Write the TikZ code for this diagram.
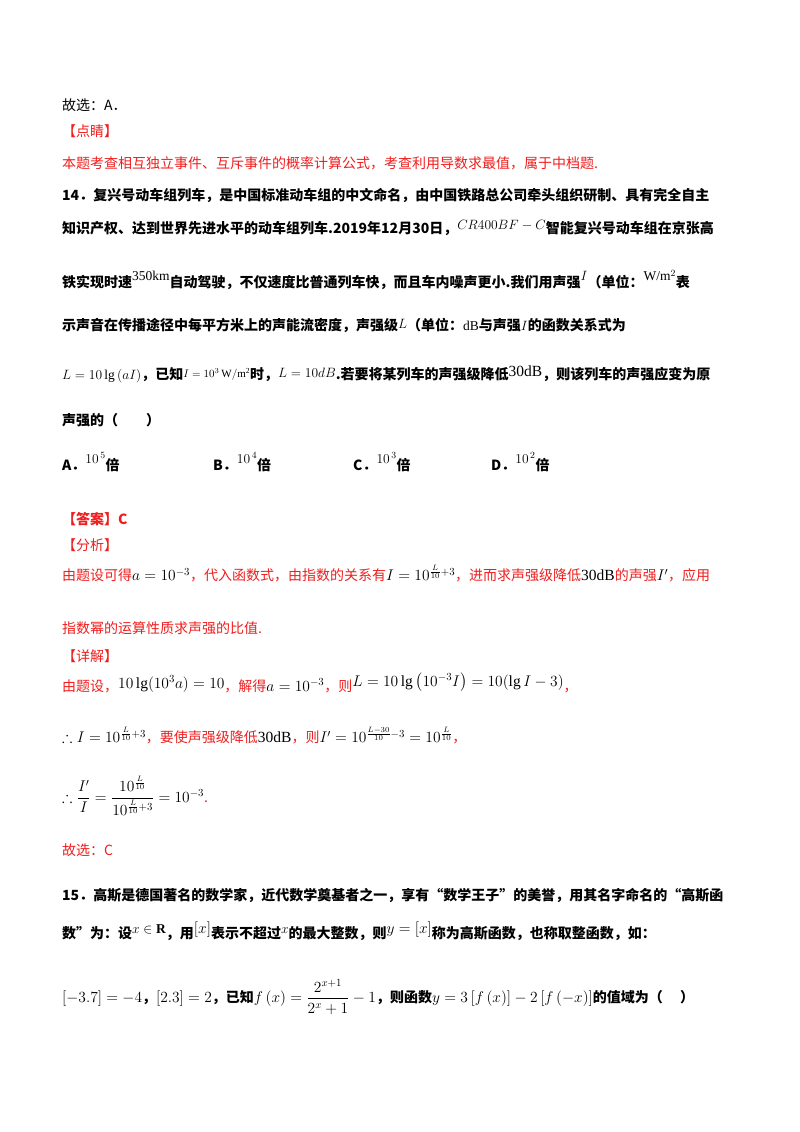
\RequirePackage{fix-cm}
\documentclass[tikz,border=0pt]{standalone}
\usepackage{amsmath,amssymb}
\usepackage{fontspec}
\setmainfont{Liberation Serif}
\newfontfamily\cjk{Noto Sans CJK SC}
\definecolor{rd}{RGB}{240,30,30}
\newcommand{\ms}{\normalfont\fontsize{15.5}{17}\selectfont}
\newcommand{\mt}{\normalfont\fontsize{13.5}{15}\selectfont}
\newcommand{\cb}{\cjk\bfseries\fontsize{14}{16}\selectfont}
\begin{document}
\begin{tikzpicture}[x=1pt,y=-1pt,
  ln/.style={anchor=west,inner sep=0pt,font=\cjk\fontsize{14}{16}\selectfont},
  red/.style={ln,text=rd},
  bl/.style={ln,font=\cb}]
\useasboundingbox (0,0) rectangle (800,1132);
\fill[white] (0,0) rectangle (800,1132);
\node[ln] (l1) at (62,105) {故选：A．};
\node[red] (l2) at (62,131) {【点睛】};
\node[red] (l3) at (62,163) {本题考查相互独立事件、互斥事件的概率计算公式，考查利用导数求最值，属于中档题.};
\node[bl] (l4) at (62,195) {14．复兴号动车组列车，是中国标准动车组的中文命名，由中国铁路总公司牵头组织研制、具有完全自主};
\node[bl] (l5) at (62,228) {知识产权、达到世界先进水平的动车组列车.2019年12月30日，\raisebox{4pt}{\mt$CR400BF-C$}智能复兴号动车组在京张高};
\node[bl] (l6) at (62,280) {铁实现时速\raisebox{7pt}{\mt 350km}自动驾驶，不仅速度比普通列车快，而且车内噪声更小.我们用声强\raisebox{7pt}{\mt$I$}（单位：\raisebox{7pt}{\mt W/m$^2$}表};
\node[bl] (l7) at (62,325) {示声音在传播途径中每平方米上的声能流密度，声强级\raisebox{2pt}{\mt$L$}（单位：\mt dB\cb 与声强\mt$I$\cb 的函数关系式为};
\node[bl] (l8) at (62,374) {\mt$L=10\lg\left(aI\right)$\cb ，已知\raisebox{2pt}{\normalfont\fontsize{11}{12}\selectfont$I=10^3\,\mathrm{W/m^2}$}时，\raisebox{2pt}{\mt$L=10dB$}.若要将某列车的声强级降低\raisebox{3pt}{\ms 30dB}，则该列车的声强应变为原};
\node[bl] (l9) at (62,420) {声强的（\qquad）};
\node[bl] (oa) at (62,462) {A．\raisebox{7pt}{\mt$10^{\,5}$}倍};
\node[bl] (ob) at (213,462) {B．\raisebox{7pt}{\mt$10^{\,4}$}倍};
\node[bl] (oc) at (353,462) {C．\raisebox{7pt}{\mt$10^{\,3}$}倍};
\node[bl] (od) at (491,462) {D．\raisebox{7pt}{\mt$10^{\,2}$}倍};
\node[red,font=\cb] (ans) at (62,519) {【答案】C};
\node[red] (fx) at (62,545) {【分析】};
\node[red] (f1) at (62,574) {由题设可得\textcolor{black}{\ms$a=10^{-3}$}，代入函数式，由指数的关系有\textcolor{black}{\ms$I=10^{\frac{L}{10}+3}$}，进而求声强级降低\textcolor{black}{\ms 30dB}的声强\textcolor{black}{\ms$I'$}，应用};
\node[red] (f2) at (62,628) {指数幂的运算性质求声强的比值.};
\node[red] (xj) at (62,656) {【详解】};
\node[red] (d1) at (62,683) {由题设，\textcolor{black}{\raisebox{3pt}{\ms$10\lg(10^3a)=10$}}，解得\textcolor{black}{\ms$a=10^{-3}$}，则\textcolor{black}{\raisebox{5pt}{\ms$L=10\lg\left(10^{-3}I\right)=10(\lg I-3)$}}，};
\node[red] (d2) at (62,736) {\textcolor{black}{\ms$\therefore I=10^{\frac{L}{10}+3}$}，要使声强级降低\textcolor{black}{\ms 30dB}，则\textcolor{black}{\ms$I'=10^{\frac{L-30}{10}-3}=10^{\frac{L}{10}}$}，};
\node[red] (d3) at (62,796) {\textcolor{black}{\ms$\therefore \dfrac{I'}{I}=\dfrac{10^{\frac{L}{10}}}{10^{\frac{L}{10}+3}}=10^{-3}$}.};
\node[red] (d4) at (62,850) {故选：C};
\node[bl] (q1) at (62,895) {15．高斯是德国著名的数学家，近代数学奠基者之一，享有“数学王子”的美誉，用其名字命名的“高斯函};
\node[bl] (q2) at (62,931) {数”为：设\raisebox{5pt}{\mt$x\in\mathbf{R}$}，用\raisebox{5pt}{\ms$\left[x\right]$}表示不超过\raisebox{5pt}{\mt$x$}的最大整数，则\raisebox{5pt}{\ms$y=\left[x\right]$}称为高斯函数，也称取整函数，如：};
\node[bl] (q3) at (62,997) {\ms$\left[-3.7\right]=-4$\cb ，\ms$\left[2.3\right]=2$\cb ，已知\ms$f\left(x\right)=\dfrac{2^{x+1}}{2^x+1}-1$\cb ，则函数\ms$y=3\left[f\left(x\right)\right]-2\left[f\left(-x\right)\right]$\cb 的值域为（\quad\ ）};
\end{tikzpicture}
\end{document}
